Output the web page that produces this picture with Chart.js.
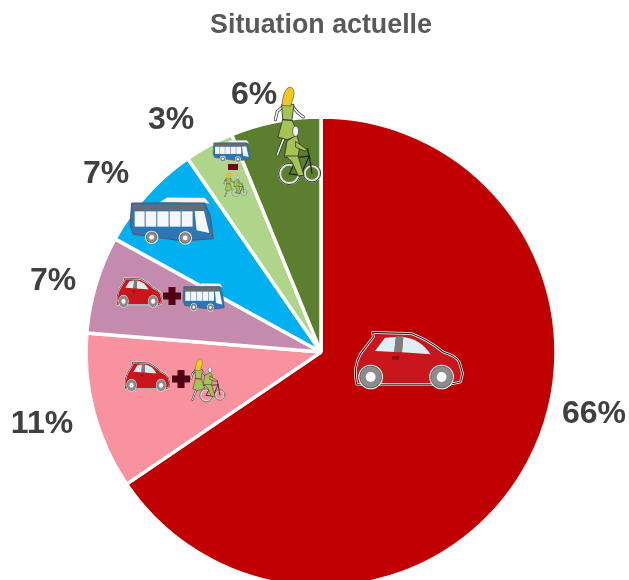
<!DOCTYPE html>
<html lang="fr">
<head>
<meta charset="utf-8">
<title>Situation actuelle</title>
<script src="https://cdn.jsdelivr.net/npm/chart.js@4"></script>
<style>
  html, body { margin: 0; padding: 0; background: #fff; overflow: hidden; width: 629px; height: 580px; }
  #wrap { position: absolute; left: 0; top: 0; width: 629px; height: 662px; }
</style>
</head>
<body>
<div id="wrap"><canvas id="chart" width="629" height="662"></canvas></div>
<script>
const chartTitle = 'Situation actuelle';
const categories = ['Voiture', 'Voiture + vélo/marche', 'Voiture + bus', 'Bus', 'Bus + vélo/marche', 'Vélo/marche'];
const shares = [65.5, 10.8, 6.7, 7.4, 3.4, 6.2];
const shareLabels = ['66%', '11%', '7%', '7%', '3%', '6%'];
const sliceColors = ['#C00000', '#F8929E', '#C48BAE', '#00B0F0', '#AED58A', '#5B7F2E'];
const labelSpots = [[594, 414], [42, 424], [53, 281], [106, 174], [171, 120], [254, 95]];

function path(ctx, pts, close) {
  ctx.beginPath();
  pts.forEach((p, i) => i ? ctx.lineTo(p[0], p[1]) : ctx.moveTo(p[0], p[1]));
  if (close) ctx.closePath();
}

function wheel(ctx, x, y, r) {
  ctx.fillStyle = '#fff';
  ctx.beginPath(); ctx.arc(x, y, r + 4, 0, Math.PI * 2); ctx.fill();
  ctx.fillStyle = '#8c8c8c'; ctx.strokeStyle = '#444'; ctx.lineWidth = 2;
  ctx.beginPath(); ctx.arc(x, y, r, 0, Math.PI * 2); ctx.fill(); ctx.stroke();
  ctx.fillStyle = '#fff';
  ctx.beginPath(); ctx.arc(x, y, r * 0.45, 0, Math.PI * 2); ctx.fill();
}

// car is sketched in a 325 x 180 box
function drawCar(ctx, x, y, s, sy) {
  ctx.save();
  ctx.translate(x, y); ctx.scale(s, sy || s); ctx.translate(-45, -65);
  ctx.lineJoin = 'round';
  ctx.beginPath();
  ctx.moveTo(50, 222);
  ctx.quadraticCurveTo(38, 170, 62, 130);
  ctx.lineTo(100, 80); ctx.lineTo(98, 66); ctx.lineTo(215, 70);
  ctx.quadraticCurveTo(265, 88, 310, 125);
  ctx.quadraticCurveTo(350, 138, 358, 155);
  ctx.lineTo(368, 190); ctx.lineTo(362, 215); ctx.lineTo(330, 222);
  ctx.closePath();
  ctx.fillStyle = '#C8161C'; ctx.fill();
  ctx.strokeStyle = '#fff'; ctx.lineWidth = 6 + 0.6 / s; ctx.stroke();
  ctx.strokeStyle = '#222'; ctx.lineWidth = 2.5 + 0.3 / s; ctx.stroke();
  ctx.fillStyle = '#DDEFF5';
  ctx.beginPath(); ctx.moveTo(105, 122); ctx.lineTo(135, 82); ctx.lineTo(168, 80); ctx.lineTo(163, 125); ctx.closePath(); ctx.fill();
  ctx.beginPath(); ctx.moveTo(190, 80); ctx.quadraticCurveTo(240, 85, 272, 132); ctx.lineTo(186, 126); ctx.closePath(); ctx.fill();
  ctx.fillStyle = '#7d7d7d';
  path(ctx, [[168, 78], [190, 78], [186, 126], [163, 125]], true); ctx.fill();
  ctx.fillStyle = '#8a1015';
  ctx.fillRect(156, 138, 22, 10);
  wheel(ctx, 92, 200, 33);
  wheel(ctx, 305, 200, 33);
  ctx.restore();
}

// bus is sketched in a 250 x 140 box
function drawBus(ctx, x, y, s, sy) {
  ctx.save();
  ctx.translate(x, y); ctx.scale(s, sy || s); ctx.translate(-150, -380);
  ctx.lineJoin = 'round';
  ctx.fillStyle = '#F2F2F2'; ctx.strokeStyle = '#999'; ctx.lineWidth = 2;
  path(ctx, [[238, 396], [262, 381], [375, 382], [390, 400]], true); ctx.fill(); ctx.stroke();
  ctx.fillStyle = '#2E75B6'; ctx.strokeStyle = '#555'; ctx.lineWidth = 3;
  path(ctx, [[155, 398], [375, 398], [392, 440], [400, 505], [310, 512], [160, 492], [150, 465]], true); ctx.fill(); ctx.stroke();
  ctx.fillStyle = '#6b6b6b';
  path(ctx, [[160, 405], [372, 405], [378, 420], [160, 420]], true); ctx.fill();
  ctx.fillStyle = '#F4F8FB';
  [[164, 30], [197, 32], [232, 34], [269, 33], [305, 33]].forEach(w => ctx.fillRect(w[0], 423, w[1], 46));
  path(ctx, [[344, 422], [372, 422], [388, 488], [350, 480]], true); ctx.fill();
  wheel(ctx, 215, 501, 16);
  wheel(ctx, 316, 503, 16);
  ctx.restore();
}

// woman is sketched in a 87 x 203 box
function drawWoman(ctx, x, y, s) {
  ctx.save();
  ctx.translate(x, y); ctx.scale(s, s); ctx.translate(-585, -52);
  ctx.lineCap = 'round'; ctx.lineJoin = 'round';
  ctx.strokeStyle = '#222'; ctx.lineWidth = 9;
  path(ctx, [[612, 108], [592, 125], [586, 150]]); ctx.stroke();
  path(ctx, [[636, 108], [652, 128], [670, 142]]); ctx.stroke();
  path(ctx, [[612, 205], [600, 235], [592, 256]]); ctx.stroke();
  ctx.strokeStyle = '#fff'; ctx.lineWidth = 5;
  path(ctx, [[612, 108], [592, 125], [586, 150]]); ctx.stroke();
  path(ctx, [[636, 108], [652, 128], [670, 142]]); ctx.stroke();
  path(ctx, [[612, 205], [600, 235], [592, 256]]); ctx.stroke();
  ctx.fillStyle = '#A6C356'; ctx.strokeStyle = '#333'; ctx.lineWidth = 2.5;
  path(ctx, [[606, 104], [642, 104], [636, 150], [654, 198], [622, 210], [594, 202], [608, 150]], true);
  ctx.fill(); ctx.stroke();
  ctx.strokeStyle = '#333'; ctx.lineWidth = 4;
  path(ctx, [[608, 150], [636, 152]]); ctx.stroke();
  ctx.fillStyle = '#F2C81E'; ctx.strokeStyle = '#555'; ctx.lineWidth = 2;
  ctx.beginPath();
  ctx.moveTo(606, 106);
  ctx.quadraticCurveTo(610, 56, 630, 52);
  ctx.quadraticCurveTo(648, 56, 640, 84);
  ctx.lineTo(632, 108);
  ctx.closePath(); ctx.fill(); ctx.stroke();
  ctx.restore();
}

// cyclist is sketched in a 125 x 180 box
function drawBike(ctx, x, y, s) {
  ctx.save();
  ctx.translate(x, y); ctx.scale(s, s); ctx.translate(-597, -165);
  ctx.lineCap = 'round'; ctx.lineJoin = 'round';
  ctx.strokeStyle = '#ddd'; ctx.lineWidth = 9;
  ctx.beginPath(); ctx.arc(628, 312, 29, 0, Math.PI * 2); ctx.stroke();
  ctx.beginPath(); ctx.arc(696, 310, 23, 0, Math.PI * 2); ctx.stroke();
  ctx.strokeStyle = '#333'; ctx.lineWidth = 3;
  ctx.beginPath(); ctx.arc(628, 312, 32, 0, Math.PI * 2); ctx.stroke();
  ctx.beginPath(); ctx.arc(696, 310, 26, 0, Math.PI * 2); ctx.stroke();
  ctx.strokeStyle = '#1d2b12'; ctx.lineWidth = 4;
  path(ctx, [[628, 312], [652, 262], [688, 258], [696, 310]]); ctx.stroke();
  path(ctx, [[652, 262], [662, 316], [628, 312]]); ctx.stroke();
  path(ctx, [[662, 316], [688, 258], [682, 236]]); ctx.stroke();
  ctx.fillStyle = '#A6C356'; ctx.strokeStyle = '#333'; ctx.lineWidth = 2.5;
  path(ctx, [[622, 212], [650, 196], [660, 225], [654, 262], [614, 262]], true); ctx.fill(); ctx.stroke();
  path(ctx, [[618, 258], [654, 258], [672, 316], [655, 318], [636, 276]], true); ctx.fill(); ctx.stroke();
  path(ctx, [[648, 215], [680, 238], [676, 244], [648, 232]], true); ctx.fill(); ctx.stroke();
  ctx.fillStyle = '#f4f4f4'; ctx.strokeStyle = '#555';
  ctx.beginPath(); ctx.ellipse(647, 184, 9, 15, 0, 0, Math.PI * 2); ctx.fill(); ctx.stroke();
  ctx.restore();
}

function drawPlus(ctx, x, y, w, t) {
  ctx.fillStyle = '#4F0012';
  ctx.fillRect(x - w / 2, y - t / 2, w, t);
  ctx.fillRect(x - t / 2, y - w / 2, t, w);
}

const extras = {
  id: 'extras',
  afterDatasetsDraw(chart) {
    const ctx = chart.ctx;
    // pictograms
    drawCar(ctx, 355, 332, 0.333);
    drawCar(ctx, 125, 362, 0.139, 0.172);
    drawPlus(ctx, 181, 379, 18, 7);
    drawWoman(ctx, 191, 359, 0.2);
    drawBike(ctx, 200, 366, 0.2);
    drawCar(ctx, 117, 278, 0.139, 0.172);
    drawPlus(ctx, 172, 296, 18, 7);
    drawBus(ctx, 183, 283, 0.165, 0.2);
    drawBus(ctx, 130, 197, 0.333);
    drawBus(ctx, 213, 140, 0.15, 0.157);
    ctx.fillStyle = '#6B0A1E';
    ctx.fillRect(228, 164, 10, 6);
    drawWoman(ctx, 224, 172, 0.12);
    drawBike(ctx, 232, 175, 0.12);
    drawWoman(ctx, 275, 87, 0.333);
    drawBike(ctx, 279, 125, 0.333);
    // percentages
    ctx.save();
    ctx.font = 'bold 32px "Liberation Sans", Arial, sans-serif';
    ctx.fillStyle = '#404040';
    ctx.textAlign = 'center';
    ctx.textBaseline = 'middle';
    shareLabels.forEach((txt, i) => ctx.fillText(txt, labelSpots[i][0], labelSpots[i][1]));
    ctx.restore();
  }
};

new Chart(document.getElementById('chart'), {
  type: 'pie',
  data: {
    labels: categories,
    datasets: [{
      data: shares,
      backgroundColor: sliceColors,
      borderColor: '#ffffff',
      borderWidth: 3.5
    }]
  },
  options: {
    responsive: false,
    animation: false,
    radius: 235,
    layout: { padding: { left: 13, bottom: 0 } },
    plugins: {
      legend: { display: false },
      tooltip: { enabled: false },
      title: {
        display: true,
        text: chartTitle,
        color: '#595959',
        font: { family: '"Liberation Sans", Arial, sans-serif', size: 26.8, weight: 'bold' },
        padding: { top: 10, bottom: 0 }
      }
    }
  },
  plugins: [extras]
});
</script>
</body>
</html>
